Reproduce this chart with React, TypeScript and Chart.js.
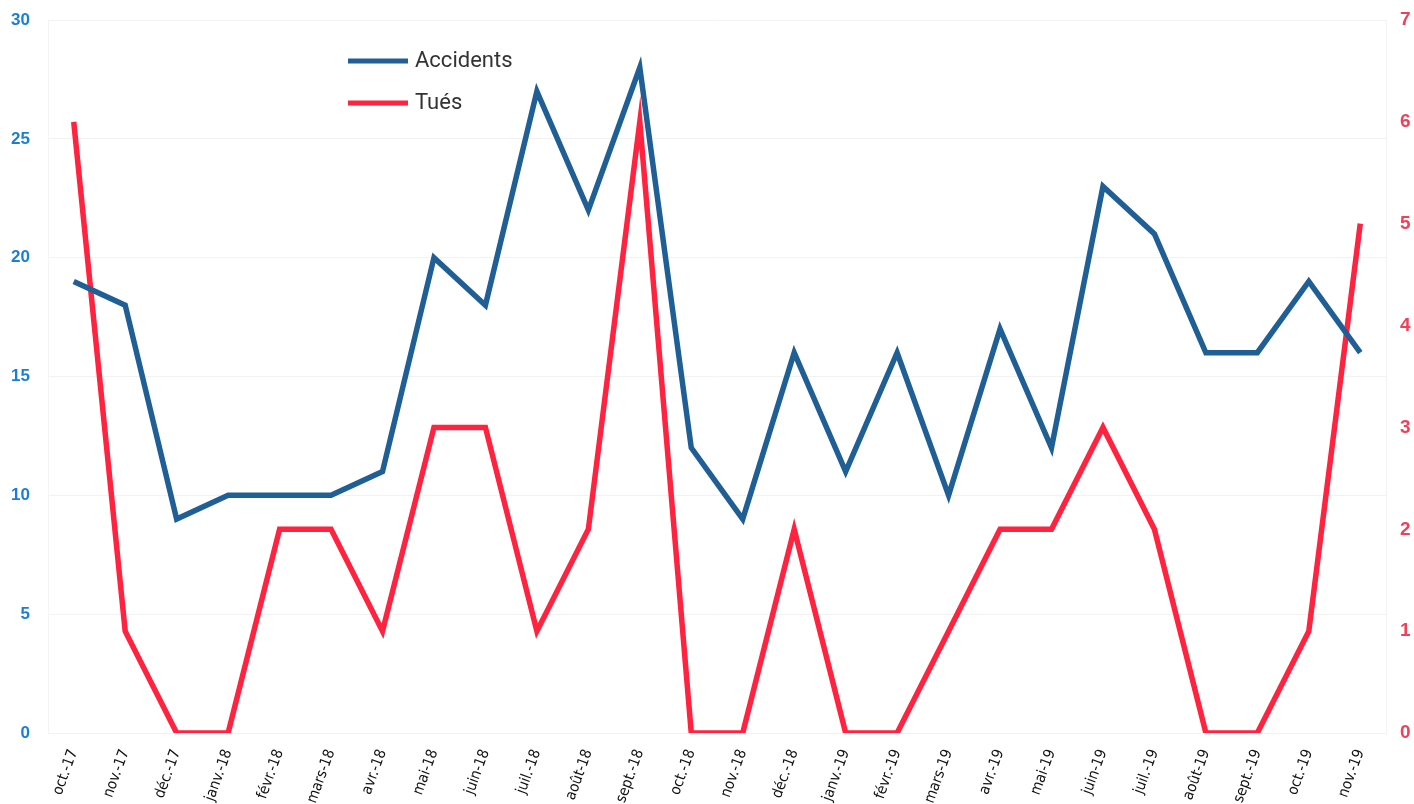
import React, { useEffect, useRef } from "react";
import { Chart, registerables } from "chart.js";

Chart.register(...registerables);

const months = [
  "oct.-17", "nov.-17", "déc.-17", "janv.-18", "févr.-18", "mars-18", "avr.-18",
  "mai-18", "juin-18", "juil.-18", "août-18", "sept.-18", "oct.-18", "nov.-18",
  "déc.-18", "janv.-19", "févr.-19", "mars-19", "avr.-19", "mai-19", "juin-19",
  "juil.-19", "août-19", "sept.-19", "oct.-19", "nov.-19",
];
const accidents = [19, 18, 9, 10, 10, 10, 11, 20, 18, 27, 22, 28, 12, 9, 16, 11, 16, 10, 17, 12, 23, 21, 16, 16, 19, 16];
const tues = [6, 1, 0, 0, 2, 2, 1, 3, 3, 1, 2, 6, 0, 0, 2, 0, 0, 1, 2, 2, 3, 2, 0, 0, 1, 5];

const BLUE = "#1f5f96";
const RED = "#ff2340";

const legendPlugin = {
  id: "innerLegend",
  afterDraw(chart: any) {
    const ctx = chart.ctx;
    const items = chart.data.datasets;
    ctx.save();
    items.forEach((ds: any, i: number) => {
      const y = 61 + i * 42;
      ctx.strokeStyle = ds.borderColor;
      ctx.lineWidth = 5;
      ctx.beginPath();
      ctx.moveTo(348, y);
      ctx.lineTo(408, y);
      ctx.stroke();
      ctx.fillStyle = "#333333";
      ctx.font = "22px Roboto, 'Liberation Sans', sans-serif";
      ctx.textBaseline = "middle";
      ctx.fillText(ds.label, 415, y);
    });
    ctx.restore();
  },
};

export default function App() {
  const ref = useRef<HTMLCanvasElement>(null);
  useEffect(() => {
    document.body.style.margin = "0";
    const chart = new Chart(ref.current!, {
      type: "line",
      data: {
        labels: months,
        datasets: [
          {
            label: "Accidents",
            data: accidents,
            borderColor: BLUE,
            backgroundColor: BLUE,
            borderWidth: 5.5,
            pointRadius: 0,
            tension: 0,
            yAxisID: "y",
          },
          {
            label: "Tués",
            data: tues,
            borderColor: RED,
            backgroundColor: RED,
            borderWidth: 5.5,
            pointRadius: 0,
            tension: 0,
            yAxisID: "y1",
          },
        ],
      },
      options: {
        animation: false,
        responsive: false,
        layout: { padding: { top: 20, bottom: 0, left: 0, right: 0 } },
        plugins: { legend: { display: false }, tooltip: { enabled: false } },
        scales: {
          x: {
            offset: true,
            grid: { display: false },
            border: { display: false },
            ticks: {
              minRotation: 70,
              maxRotation: 70,
              color: "#111111",
              padding: 6,
              font: { family: "'DejaVu Sans Condensed', 'Liberation Sans Narrow', 'Liberation Sans', sans-serif", size: 15 },
            },
            afterFit(scale: any) {
              scale.height = 71;
            },
          },
          y: {
            position: "left",
            min: 0,
            max: 30,
            ticks: {
              stepSize: 5,
              color: "#1a7fd4",
              padding: 18,
              font: { family: "'Liberation Sans', Arial, sans-serif", size: 17, weight: "bold" },
            },
            grid: { color: "#f2f2f2", lineWidth: 1, drawTicks: false },
            border: { display: true, color: "#f4f4f4" },
            afterFit(scale: any) {
              scale.width = 48;
              scale.paddingTop = 8;
              scale.paddingBottom = 8;
            },
          },
          y1: {
            position: "right",
            min: 0,
            max: 7,
            ticks: {
              stepSize: 1,
              color: "#f0405a",
              padding: 14,
              font: { family: "'Liberation Sans', Arial, sans-serif", size: 19, weight: "bold" },
            },
            grid: { display: false, drawTicks: false },
            border: { display: true, color: "#f4f4f4" },
            afterFit(scale: any) {
              scale.width = 28;
              scale.paddingTop = 8;
              scale.paddingBottom = 8;
            },
          },
        },
      },
      plugins: [legendPlugin],
    });
    return () => chart.destroy();
  }, []);
  return (
    <div style={{ width: 1414, height: 804, background: "#fff" }}>
      <canvas ref={ref} width={1414} height={804} style={{ display: "block" }} />
    </div>
  );
}
